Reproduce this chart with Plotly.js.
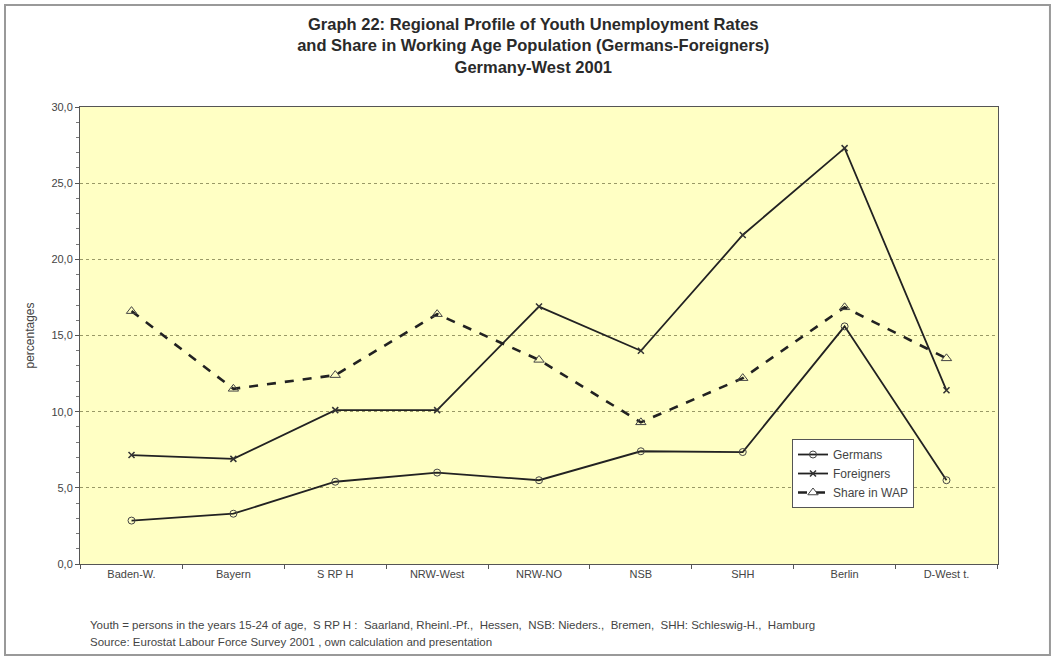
<!DOCTYPE html>
<html>
<head>
<meta charset="utf-8">
<script src="https://cdn.plot.ly/plotly-3.0.1.min.js"></script>
<style>
html,body{margin:0;padding:0;background:#fff;}
#chart{width:1056px;height:662px;}
</style>
</head>
<body>
<div id="chart"></div>
<script>
const categories = ["Baden-W.", "Bayern", "S RP H", "NRW-West", "NRW-NO", "NSB", "SHH", "Berlin", "D-West t."];
const germans = [2.85, 3.3, 5.4, 6.0, 5.5, 7.4, 7.35, 15.6, 5.5];
const foreigners = [7.15, 6.9, 10.1, 10.1, 16.9, 14.0, 21.6, 27.3, 11.4];
const shareWAP = [16.6, 11.5, 12.4, 16.4, 13.4, 9.3, 12.2, 16.85, 13.5];
const seriesNames = ["Germans", "Foreigners", "Share in WAP"];

const lineColor = "#222222";
const traces = [
  {x: categories, y: germans, name: seriesNames[0], type: "scatter", mode: "lines+markers",
   line: {color: lineColor, width: 1.8},
   marker: {symbol: "circle-open", size: 7, color: "#444", line: {width: 1}}},
  {x: categories, y: foreigners, name: seriesNames[1], type: "scatter", mode: "lines+markers",
   line: {color: lineColor, width: 1.8},
   marker: {symbol: "x-thin-open", size: 6, color: "#333", line: {width: 1.5}}},
  {x: categories, y: shareWAP, name: seriesNames[2], type: "scatter", mode: "lines+markers",
   line: {color: lineColor, width: 2.6, dash: "dash"},
   marker: {symbol: "triangle-up-open", size: 9, color: "#444", line: {width: 1}}}
];

const layout = {
  width: 1056, height: 662,
  margin: {l: 80, r: 58, t: 107, b: 98},
  paper_bgcolor: "#ffffff",
  plot_bgcolor: "#ffffc4",
  separators: ",.",
  font: {family: "Liberation Sans, Arial, sans-serif", size: 11, color: "#444"},
  title: {
    text: "Graph 22: Regional Profile of Youth Unemployment Rates<br>and Share in Working Age Population (Germans-Foreigners)<br>Germany-West 2001",
    font: {family: "Liberation Sans, Arial, sans-serif", size: 16.5, color: "#2a2a2a", weight: "bold"},
    x: 0.505, xanchor: "center", xref: "container", yref: "container", y: 0.955, yanchor: "middle"
  },
  showlegend: true,
  legend: {
    x: 0.7756, y: 0.2735, xanchor: "left", yanchor: "top",
    bgcolor: "#ffffff", bordercolor: "#555", borderwidth: 1,
    font: {size: 12, color: "#444"}, tracegroupgap: 0, itemwidth: 30
  },
  xaxis: {
    type: "category",
    showline: true, linecolor: "#555", linewidth: 1, mirror: true,
    ticks: "outside", tickson: "boundaries", ticklen: 4, tickcolor: "#555",
    showgrid: false, zeroline: false,
    tickfont: {size: 11, color: "#444"}
  },
  yaxis: {
    range: [0, 30], dtick: 5, tickformat: ".1f",
    showline: true, linecolor: "#555", linewidth: 1, mirror: true,
    ticks: "outside", ticklen: 4, tickcolor: "#555",
    minor: {dtick: 1, ticks: "outside", ticklen: 3, tickcolor: "#777", showgrid: false},
    showgrid: true, gridcolor: "#999966", griddash: "dot", gridwidth: 1,
    zeroline: false,
    tickfont: {size: 11, color: "#444"},
    title: {text: "percentages", font: {size: 12, color: "#444"}, standoff: 14}
  },
  shapes: [
    {type: "rect", xref: "paper", yref: "paper", x0: -0.0817, x1: 1.0566, y0: -0.199, y1: 1.223,
     line: {color: "#999", width: 2}, fillcolor: "rgba(0,0,0,0)", layer: "below"}
  ],
  annotations: [
    {xref: "paper", yref: "paper", x: 0.0087, y: -0.1335, xanchor: "left", yanchor: "middle", showarrow: false,
     align: "left", font: {size: 11.5, color: "#444"},
     text: "Youth = persons in the years 15-24 of age,  S RP H :  Saarland, Rheinl.-Pf.,  Hessen,  NSB: Nieders.,  Bremen,  SHH: Schleswig-H.,  Hamburg"},
    {xref: "paper", yref: "paper", x: 0.0087, y: -0.1707, xanchor: "left", yanchor: "middle", showarrow: false,
     align: "left", font: {size: 11.5, color: "#444"},
     text: "Source: Eurostat Labour Force Survey 2001 , own calculation and presentation"}
  ]
};

Plotly.newPlot("chart", traces, layout, {displayModeBar: false, staticPlot: true});
</script>
</body>
</html>
